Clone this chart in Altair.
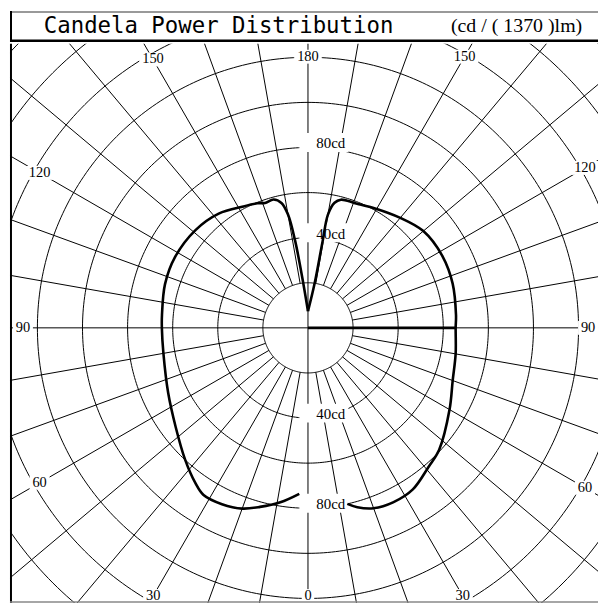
import altair as alt
import numpy as np
import pandas as pd

# ---------------- data ----------------
TITLE = "Candela Power Distribution"
UNIT = "(cd / ( 1370 )lm)"

# left half of the curve: angle from nadir (0 = down, 180 = up), candela
LEFT_ANGLE = [3, 9, 15, 20, 26, 32, 36, 43, 53, 65, 80, 90, 95, 107, 118, 131,
              142, 152, 158, 161, 165, 168, 170, 171.6, 174, 180]
LEFT_CD = [73.7, 78.3, 82.2, 85.3, 87.0, 87.4, 85.0, 79.9, 73.4, 68.4, 65.1,
           64.8, 65.0, 66.3, 66.8, 66.1, 64.3, 61.0, 59.6, 58.6, 58.9, 56.6,
           51.0, 39.1, 19.8, 7.4]
# right half of the curve
RIGHT_ANGLE = [12.6, 15.4, 20, 26, 33, 41, 47, 60, 70, 80, 90, 95, 107, 118,
               130, 140, 151, 157, 160, 165.6, 168, 170, 170.4, 171.5, 180]
RIGHT_CD = [80.0, 82.5, 85.1, 86.1, 85.4, 81.6, 79.5, 72.5, 68.3, 66.5, 65.5,
            65.9, 67.1, 67.6, 66.8, 63.7, 60.7, 59.4, 59.1, 58.7, 56.7, 51.0,
            39.0, 20.0, 7.4]
C90_CD = 65.5  # thick segment on the right horizontal

RING_CD = [20, 40, 60, 80, 100, 120, 140, 160, 180]
RAY_ANGLES = list(range(0, 360, 10))
AXIS_LABELS = [0, 30, 60, 90, 120, 150, 180]
CD_LABELS = [40, 80]

# ---------------- layout ----------------
K = 2.27          # px per cd
W = 592
H_TOP = 31
H_PLOT = 563
CX = 300
CY = 286
x_dom = [-CX / K, (W - CX) / K]
y_dom = [-(H_PLOT - CY) / K, CY / K]
xs = alt.Scale(domain=x_dom, zero=False, nice=False)
ys = alt.Scale(domain=y_dom, zero=False, nice=False)
X = alt.X("x:Q", scale=xs, axis=None)
Y = alt.Y("y:Q", scale=ys, axis=None)

# rings
rows = []
for r in RING_CD:
    for i, a in enumerate(np.arange(0, 361, 1)):
        t = np.radians(a)
        rows.append({"ring": r, "i": i, "x": r * np.sin(t), "y": r * np.cos(t)})
rings_df = pd.DataFrame(rows)

# rays
rows = []
for a in RAY_ANGLES:
    t = np.radians(a)
    r0 = 0 if a % 90 == 0 else RING_CD[0]
    for i, r in enumerate([r0, 220]):
        rows.append({"ray": a, "i": i, "x": r * np.sin(t), "y": -r * np.cos(t)})
rays_df = pd.DataFrame(rows)

# curve
rows = []
for side, angs, cds, s in [("L", LEFT_ANGLE, LEFT_CD, -1), ("R", RIGHT_ANGLE, RIGHT_CD, 1)]:
    for i, (a, c) in enumerate(zip(angs, cds)):
        t = np.radians(a)
        rows.append({"side": side, "i": i, "x": s * c * np.sin(t), "y": -c * np.cos(t)})
curve_df = pd.DataFrame(rows)

c90_df = pd.DataFrame({"i": [0, 1], "x": [0, C90_CD], "y": [0, 0]})

# angle labels
rows = []
for a in AXIS_LABELS:
    sides = [0] if a in (0, 180) else [-1, 1]
    for s in sides:
        t = np.radians(a)
        dx = s * np.sin(t)
        dy = -np.cos(t)
        rdiag = 312 if s <= 0 else 322
        lims = [rdiag]
        if abs(dx) > 1e-9:
            lims.append((287 if s < 0 else 282) / abs(dx))
        if abs(dy) > 1e-9:
            lims.append((273 if dy > 0 else 270) / abs(dy))
        rp = min(lims) / K
        txt = str(a)
        w = 7.6 * len(txt) + 5
        h = 14.0
        rows.append({"x": rp * dx, "y": rp * dy, "label": txt,
                     "shape": f"M{-w/h:.3f},-1L{w/h:.3f},-1L{w/h:.3f},1L{-w/h:.3f},1Z",
                     "size": h * h})
alab_df = pd.DataFrame(rows)

rows = []
for c in CD_LABELS:
    for sgn in (1, -1):
        rows.append({"x": 0, "y": sgn * c, "label": f"{c}cd"})
cdlab_df = pd.DataFrame(rows)

# ---------------- layers ----------------
rings = alt.Chart(rings_df).mark_line(color="black", strokeWidth=1, clip=True).encode(
    x=X, y=Y, detail="ring:N", order="i:Q")
rays = alt.Chart(rays_df).mark_line(color="black", strokeWidth=1, clip=True).encode(
    x=X, y=Y, detail="ray:N", order="i:Q")
c90 = alt.Chart(c90_df).mark_line(color="black", strokeWidth=2.6).encode(
    x=X, y=Y, order="i:Q")

abox = alt.Chart(alab_df).mark_point(filled=True, color="white", opacity=1, strokeWidth=0).encode(
    x=X, y=Y, shape=alt.Shape("shape:N", scale=None), size=alt.Size("size:Q", scale=None))
atext = alt.Chart(alab_df).mark_text(font="Liberation Serif", fontSize=14.5, color="black",
                                     align="center", baseline="middle").encode(
    x=X, y=Y, text="label:N")

cdbox = alt.Chart(cdlab_df).mark_point(filled=True, color="white", opacity=1, strokeWidth=0,
                                       shape="M-2.6,-1L2.6,-1L2.6,1L-2.6,1Z", size=19 * 19,
                                       xOffset=16, yOffset=-5).encode(x=X, y=Y)
cdtext = alt.Chart(cdlab_df).mark_text(font="Liberation Serif", fontSize=15, color="black",
                                       align="center", baseline="middle", dx=23, dy=-4).encode(
    x=X, y=Y, text="label:N")

curve = alt.Chart(curve_df).mark_line(color="black", strokeWidth=2.6, strokeJoin="round",
                                      interpolate="catmull-rom", clip=True).encode(
    x=X, y=Y, detail="side:N", order="i:Q")

# frame lines of the plot panel (left and bottom; right edge runs off the picture)
frame_df = pd.DataFrame({"k": [0]})
pleft = alt.Chart(frame_df).mark_rule(color="black", strokeWidth=2).encode(
    x=alt.value(1), y=alt.value(0), y2=alt.value(H_PLOT))
pbottom = alt.Chart(frame_df).mark_rule(color="#888888", strokeWidth=1.5).encode(
    x=alt.value(0), x2=alt.value(W), y=alt.value(H_PLOT - 1))

polar = alt.layer(rings, rays, c90, abox, atext, cdbox, cdtext, curve, pleft, pbottom).properties(
    width=W, height=H_PLOT)

title_df = pd.DataFrame({"t": [TITLE]})
unit_df = pd.DataFrame({"t": [UNIT]})
t1 = alt.Chart(title_df).mark_text(font="DejaVu Sans Mono", fontSize=22.5, color="black",
                                   align="center", baseline="middle").encode(
    x=alt.value(210), y=alt.value(15), text="t:N")
t2 = alt.Chart(unit_df).mark_text(font="Liberation Serif", fontSize=20, color="black",
                                  align="center", baseline="middle").encode(
    x=alt.value(510), y=alt.value(15), text="t:N")
ttop = alt.Chart(frame_df).mark_rule(color="#777777", strokeWidth=1.5).encode(
    x=alt.value(0), x2=alt.value(W), y=alt.value(1))
tbottom = alt.Chart(frame_df).mark_rule(color="black", strokeWidth=2.5).encode(
    x=alt.value(0), x2=alt.value(W), y=alt.value(H_TOP - 1))
tleft = alt.Chart(frame_df).mark_rule(color="black", strokeWidth=2).encode(
    x=alt.value(1), y=alt.value(0), y2=alt.value(H_TOP))
top = alt.layer(t1, t2, ttop, tbottom, tleft).properties(width=W, height=H_TOP)

chart = alt.vconcat(top, polar, spacing=0).properties(
    padding=0, background="white").configure_view(stroke=None)

chart.save("out.html", embed_options={"renderer": "svg", "actions": False})
